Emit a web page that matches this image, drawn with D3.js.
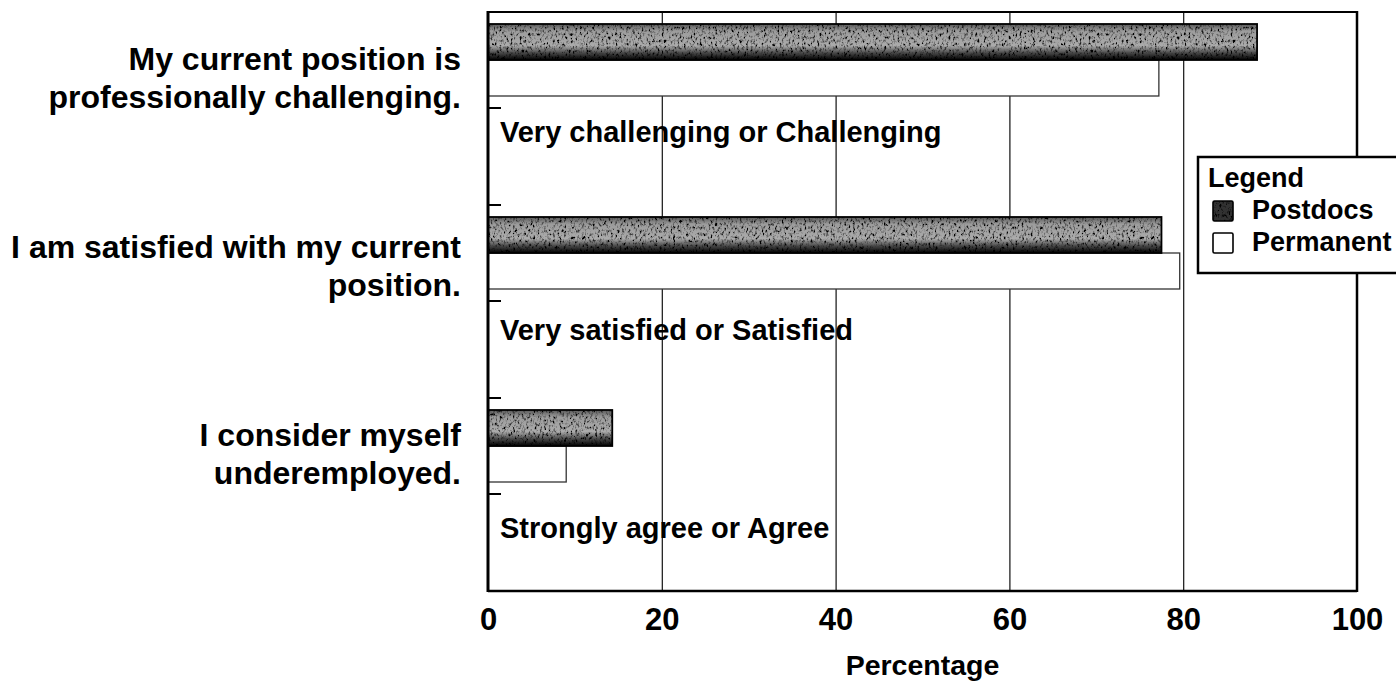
<!DOCTYPE html>
<html>
<head>
<meta charset="utf-8">
<script src="https://cdn.jsdelivr.net/npm/d3@7"></script>
<style>
  html, body { margin: 0; padding: 0; background: #fff; }
  svg { display: block; font-family: "Liberation Sans", Arial, sans-serif; font-weight: bold; }
</style>
</head>
<body>
<svg id="chart" width="1396" height="681"></svg>
<script>
// Survey items, one group of bars per item
const questions = [
  ["My current position is", "professionally challenging."],
  ["I am satisfied with my current", "position."],
  ["I consider myself", "underemployed."]
];
const responseLabels = [
  "Very challenging or Challenging",
  "Very satisfied or Satisfied",
  "Strongly agree or Agree"
];
const seriesNames = ["Postdocs", "Permanent"];
const postdocs = [88.5, 77.5, 14.3];
const permanent = [77.2, 79.6, 9.0];
const xTicks = [0, 20, 40, 60, 80, 100];
const xTitle = "Percentage";
const legendTitle = "Legend";

const svg = d3.select("#chart");
const plot = { left: 488, right: 1357, top: 12, bottom: 591 };

const x = d3.scaleLinear().domain([0, 100]).range([plot.left, plot.right]);
const y = d3.scaleBand().domain(d3.range(questions.length)).range([plot.top, plot.bottom]);
// label rows: question text (first line) and response wording
const yQuestion = d3.scalePoint().domain(d3.range(questions.length)).range([70, 446]);
const yResponse = d3.scalePoint().domain(d3.range(questions.length)).range([142, 538]);
const barH = 36, barOffset = 12;

// Stippled, scanned-looking fill for the Postdocs bars
const defs = svg.append("defs");
const grad = defs.append("linearGradient").attr("id", "pdGrad")
  .attr("x1", 0).attr("y1", 0).attr("x2", 0).attr("y2", 1);
[[0, "#585858"], [0.2, "#9c9c9c"], [0.6, "#ababab"], [0.8, "#4a4a4a"], [1, "#000"]]
  .forEach(([o, c]) => grad.append("stop").attr("offset", o).attr("stop-color", c));

const f = defs.append("filter").attr("id", "stipple")
  .attr("x", 0).attr("y", 0).attr("width", 1).attr("height", 1);
f.append("feTurbulence").attr("type", "fractalNoise")
  .attr("baseFrequency", "0.45 0.3").attr("numOctaves", 3).attr("seed", 9).attr("result", "noise");
f.append("feColorMatrix").attr("in", "noise").attr("type", "matrix")
  .attr("values", "3.6 0 0 0 -0.9  3.6 0 0 0 -0.9  3.6 0 0 0 -0.9  0 0 0 0 1")
  .attr("result", "speck");
f.append("feBlend").attr("in", "speck").attr("in2", "SourceGraphic").attr("mode", "multiply").attr("result", "mix");
f.append("feComposite").attr("in", "mix").attr("in2", "SourceAlpha").attr("operator", "in");

// Vertical gridlines from the x axis
svg.append("g")
  .attr("transform", `translate(0,${plot.bottom})`)
  .call(d3.axisBottom(x).tickValues(xTicks.slice(1, -1)).tickSize(-(plot.bottom - plot.top)).tickFormat(""))
  .call(g => g.select(".domain").remove())
  .call(g => g.selectAll("line").attr("stroke", "#111").attr("stroke-width", 1.2));

// Tick labels
svg.append("g")
  .attr("transform", `translate(0,${plot.bottom})`)
  .call(d3.axisBottom(x).tickValues(xTicks).tickSize(0).tickPadding(17).tickFormat(d3.format("d")))
  .call(g => g.select(".domain").remove())
  .call(g => g.selectAll("text").attr("font-size", 31).attr("font-weight", "bold")
    .attr("font-family", "Liberation Sans, Arial, sans-serif").attr("fill", "#000"));

svg.append("text")
  .attr("x", (plot.left + plot.right) / 2).attr("y", 675)
  .attr("text-anchor", "middle").attr("font-size", 28.5).attr("fill", "#000")
  .text(xTitle);

// Bars
const groups = svg.append("g").selectAll("g")
  .data(questions.map((q, i) => ({ i, pd: postdocs[i], pm: permanent[i] })))
  .join("g");

groups.append("rect")
  .attr("x", x(0)).attr("y", d => y(d.i) + barOffset + barH)
  .attr("width", d => x(d.pm) - x(0)).attr("height", barH)
  .attr("fill", "#fff").attr("stroke", "#333").attr("stroke-width", 1.3);

groups.append("rect")
  .attr("x", x(0)).attr("y", d => y(d.i) + barOffset)
  .attr("width", d => x(d.pd) - x(0)).attr("height", barH)
  .attr("fill", "url(#pdGrad)").attr("filter", "url(#stipple)");
groups.append("rect")
  .attr("x", x(0)).attr("y", d => y(d.i) + barOffset)
  .attr("width", d => x(d.pd) - x(0)).attr("height", barH)
  .attr("fill", "none").attr("stroke", "#000").attr("stroke-width", 1.8);

// Response labels inside the plot
groups.append("text")
  .attr("x", 500).attr("y", d => yResponse(d.i))
  .attr("font-size", 29).attr("fill", "#000")
  .text(d => responseLabels[d.i]);

// Question labels on the left
groups.append("text")
  .attr("text-anchor", "end").attr("font-size", 32).attr("fill", "#000")
  .selectAll("tspan")
  .data(d => questions[d.i].map((t, k) => ({ t, k, i: d.i })))
  .join("tspan")
  .attr("x", 461)
  .attr("y", d => yQuestion(d.i) + d.k * 38)
  .text(d => d.t);

// Small category ticks on the inner side of the left axis
const tickYs = [];
questions.forEach((q, i) => { tickYs.push(y(i)); tickYs.push(y(i) + barOffset + 2 * barH + 12); });
svg.append("g").selectAll("line").data(tickYs).join("line")
  .attr("x1", plot.left).attr("x2", plot.left + 13)
  .attr("y1", d => d).attr("y2", d => d)
  .attr("stroke", "#000").attr("stroke-width", 2);

// Frame
const frame = svg.append("g").attr("stroke", "#000").attr("fill", "none");
frame.append("line").attr("x1", plot.left).attr("x2", plot.right).attr("y1", plot.top).attr("y2", plot.top).attr("stroke-width", 2);
frame.append("line").attr("x1", plot.left).attr("x2", plot.right).attr("y1", plot.bottom).attr("y2", plot.bottom).attr("stroke-width", 2.5);
frame.append("line").attr("x1", plot.left).attr("x2", plot.left).attr("y1", plot.top - 1).attr("y2", plot.bottom + 1).attr("stroke-width", 3);
frame.append("line").attr("x1", plot.right).attr("x2", plot.right).attr("y1", plot.top - 1).attr("y2", plot.bottom + 1).attr("stroke-width", 2.5);

// Legend
const lg = svg.append("g");
lg.append("rect").attr("x", 1198).attr("y", 157).attr("width", 220).attr("height", 116)
  .attr("fill", "#fff").attr("stroke", "#000").attr("stroke-width", 2.5);
lg.append("text").attr("x", 1208).attr("y", 187).attr("font-size", 27).attr("fill", "#000").text(legendTitle);
const items = lg.selectAll("g.item").data(seriesNames).join("g").attr("class", "item")
  .attr("transform", (d, i) => `translate(1213,${201 + i * 32})`);
items.append("rect").attr("width", 20).attr("height", 20)
  .attr("fill", (d, i) => i === 0 ? "#333" : "#fff")
  .attr("filter", (d, i) => i === 0 ? "url(#stipple)" : null);
items.append("rect").attr("width", 20).attr("height", 20).attr("rx", 1.5)
  .attr("fill", "none").attr("stroke", "#000").attr("stroke-width", 1.6);
items.append("text").attr("x", 39).attr("y", 18).attr("font-size", 27).attr("fill", "#000").text(d => d);
</script>
</body>
</html>
